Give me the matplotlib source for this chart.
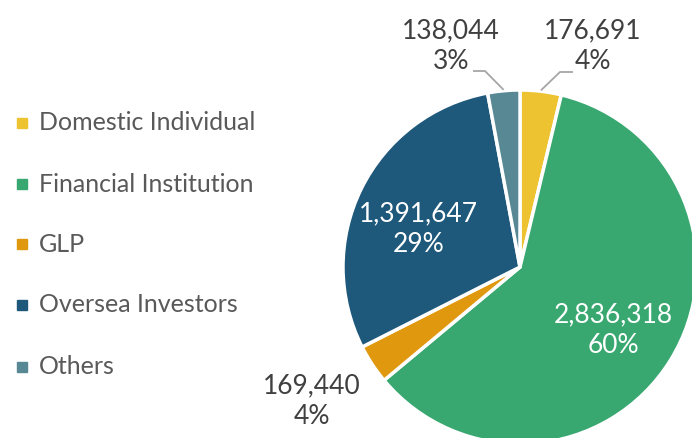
import matplotlib.pyplot as plt
import numpy as np

categories = ["Domestic Individual", "Financial Institution", "GLP",
              "Oversea Investors", "Others"]
values = [176691, 2836318, 169440, 1391647, 138044]
percent_labels = ["4%", "60%", "4%", "29%", "3%"]
colors = ["#EEC332", "#39A870", "#E0980E", "#1E587A", "#588894"]

W, H = 692, 438
plt.rcParams['font.family'] = ['Lato', 'DejaVu Sans']

fig = plt.figure(figsize=(W / 100, H / 100), dpi=100)
ax = fig.add_axes([0, 0, 1, 1])

cx, cy, R = 520, H - 267, 177
wedges, _ = ax.pie(values, colors=colors, startangle=90, counterclock=False,
                   center=(cx, cy), radius=R,
                   wedgeprops=dict(edgecolor='white', linewidth=2.5))
ax.set_xlim(0, W)
ax.set_ylim(0, H)
ax.set_aspect('equal')
ax.axis('off')


def label_text(i):
    return f"{values[i]:,}\n{percent_labels[i]}"


def mid_point(w, r):
    a = np.deg2rad((w.theta1 + w.theta2) / 2)
    return cx + r * np.cos(a), cy + r * np.sin(a)


dark = "#404040"
fs = 19

# labels inside the two large wedges (small nudges in pixels)
inside = {1: (0, -5), 3: (-3, -11)}
for i, (dx, dy) in inside.items():
    x, y = mid_point(wedges[i], 0.62 * R)
    ax.text(x + dx, y + dy, label_text(i), color="white", fontsize=fs,
            ha="center", va="center", linespacing=1.3)

# outside labels with leader lines
outside = {0: ((593, H - 46), [(573, H - 72), (560, H - 72)]),
           4: ((451, H - 46), [(473, H - 71), (485, H - 71)]),
           2: ((312, H - 401), None)}
for i, ((tx, ty), elbow) in outside.items():
    ax.text(tx, ty, label_text(i), color=dark, fontsize=fs,
            ha="center", va="center", linespacing=1.3)
    if elbow:
        ex, ey = mid_point(wedges[i], R * 1.005)
        xs = [p[0] for p in elbow] + [ex]
        ys = [p[1] for p in elbow] + [ey]
        ax.plot(xs, ys, color="#A6A6A6", lw=1.3, solid_capstyle="butt")

# legend
leg_y = [123, 184, 244, 305, 367]
for name, c, y in zip(categories, colors, leg_y):
    ax.add_patch(plt.Rectangle((17, H - y - 5), 10, 10, color=c))
    ax.text(39, H - y, name, color="#595959", fontsize=18, ha="left",
            va="center")

fig.savefig("out.png", dpi=100)
